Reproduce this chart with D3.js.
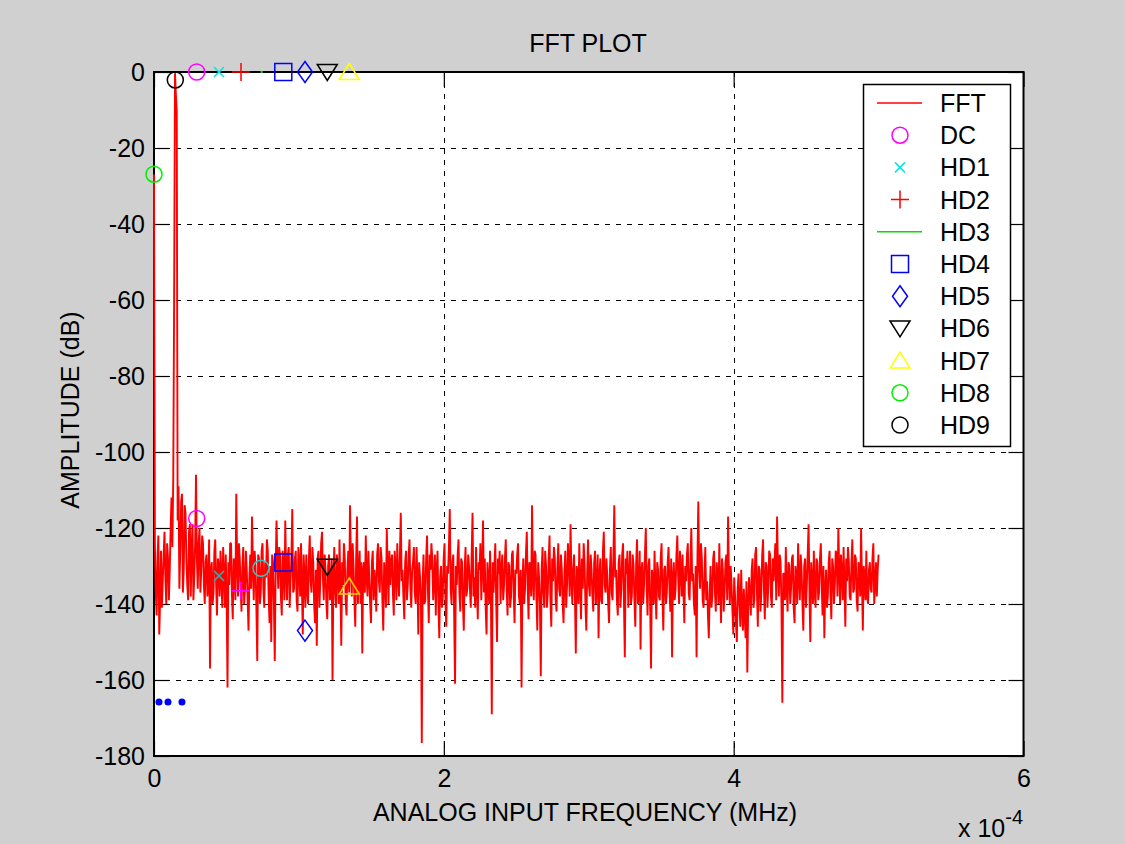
<!DOCTYPE html>
<html><head><meta charset="utf-8">
<script src="https://cdn.jsdelivr.net/npm/d3@7"></script>
<style>
body{margin:0;background:#d0d0d0;}
svg{display:block;}
text{font-family:"Liberation Sans",Arial,Helvetica,sans-serif;fill:#000;}
</style>
</head><body>
<svg id="chart" width="1125" height="844"></svg>
<script>
// ---------------- DATA ----------------
// FFT magnitude (dB) on the whole bins 0..414 (0 .. 5e-4 MHz)
const fftAmpWhole = [
-27,-137,-128,-148,-126,-134,-121,-140,-128,-131,-112,-107,-0.3,-10.5,-109,-126,-111,-131,-116,-135,
-121,-138,-119,-133,-106,-136,-120,-131,-124,-140,-127,-134,-157,-129,-137,-123,-143,-130,-126,-141,
-132,-127,-162,-135,-124,-144,-130,-111,-138,-128,-142,-125,-136,-131,-147,-127,-117,-139,-130,-155,
-128,-137,-124,-141,-133,-126,-145,-150,-129,-155,-118,-136,-127,-143,-131,-118,-139,-125,-134,-115,
-136,-126,-142,-130,-124,-148,-133,-127,-140,-122,-137,-129,-145,-151,-126,-134,-121,-139,-131,-144,
-127,-136,-160,-125,-141,-131,-123,-151,-135,-128,-143,-126,-114,-138,-130,-146,-117,-133,-140,-153,
-129,-122,-138,-133,-145,-126,-131,-142,-124,-137,-128,-147,-132,-120,-140,-135,-127,-143,-130,-124,
-138,-116,-131,-144,-126,-135,-123,-141,-129,-137,-125,-148,-133,-176.6,-127,-139,-122,-145,-131,-128,
-134,-143,-126,-149,-130,-138,-124,-146,-132,-115,-140,-127,-161,-135,-123,-142,-129,-147,-125,-136,
-130,-141,-116,-133,-125,-144,-131,-139,-118,-128,-148,-134,-126,-169,-137,-124,-150,-132,-140,-127,
-135,-123,-143,-130,-138,-126,-145,-132,-124,-140,-162,-128,-136,-121,-144,-131,-114,-139,-127,-147,
-133,-159,-125,-141,-130,-137,-122,-146,-134,-128,-142,-124,-138,-131,-145,-126,-135,-129,-119,-140,
-127,-153,-132,-124,-144,-136,-129,-147,-123,-138,-131,-142,-126,-135,-149,-128,-140,-121,-137,-133,
-145,-125,-139,-114,-131,-143,-127,-136,-124,-154,-132,-141,-126,-138,-130,-146,-123,-137,-152,-129,
-135,-120,-143,-128,-157,-133,-126,-144,-131,-139,-124,-147,-130,-137,-125,-142,-154,-129,-136,-122,
-140,-131,-127,-145,-134,-124,-139,-120,-132,-143,-154,-113,-136,-128,-141,-125,-134,-149,-130,-138,
-126,-142,-133,-124,-145,-131,-137,-127,-117,-140,-135,-148,-138,-150,-132,-146,-141,-136,-149,-158,
-133,-143,-128,-139,-125,-146,-131,-137,-123,-144,-130,-135,-127,-141,-134,-124,-117,-138,-129,-166,
-132,-125,-142,-130,-136,-127,-145,-133,-124,-139,-131,-147,-128,-135,-119,-150,-134,-126,-141,-129,
-137,-124,-143,-149,-131,-138,-126,-144,-130,-135,-127,-120,-140,-132,-125,-146,-134,-129,-139,-123,
-136,-128,-142,-131,-120,-147,-133,-126,-140,-129,-137,-124,-135,-138,-127
];
// FFT magnitude (dB) on the half bins between them (0.5 .. 413.5)
const fftAmpHalf = [
-124,-143,-122,-139,-141,-127,-133,-124,-139,-120,-125,-60,-6,-118,-136,-113,-137,-114,-128,-139,
-119,-125,-139,-124,-128,-124,-137,-122,-135,-129,-138,-123,-131,-140,-126,-135,-128,-138,-133,-125,
-141,-138,-129,-124,-137,-128,-139,-129,-124,-136,-130,-140,-126,-139,-133,-136,-130,-126,-141,-127,
-140,-126,-136,-129,-123,-138,-130,-127,-140,-131,-129,-125,-138,-126,-139,-132,-127,-141,-128,-137,
-128,-139,-125,-138,-135,-127,-141,-136,-128,-134,-125,-140,-131,-128,-141,-124,-133,-127,-140,-130,
-139,-128,-133,-137,-127,-140,-135,-129,-124,-139,-131,-137,-129,-124,-139,-128,-140,-126,-129,-131,
-137,-133,-126,-140,-129,-139,-135,-127,-134,-125,-139,-129,-141,-131,-126,-129,-137,-126,-139,-133,
-127,-134,-138,-129,-139,-127,-136,-131,-125,-140,-133,-129,-138,-134,-140,-128,-136,-127,-124,-139,
-127,-131,-140,-133,-141,-128,-139,-130,-125,-136,-129,-143,-130,-127,-137,-128,-140,-131,-138,-127,
-136,-127,-138,-141,-136,-129,-124,-130,-137,-141,-129,-140,-138,-129,-130,-139,-128,-126,-131,-139,
-128,-136,-129,-141,-127,-137,-131,-127,-138,-131,-135,-140,-127,-135,-129,-138,-134,-126,-138,-129,
-140,-131,-137,-126,-141,-128,-139,-128,-125,-139,-130,-136,-127,-140,-132,-141,-124,-138,-133,-131,
-138,-130,-140,-135,-128,-124,-140,-132,-135,-127,-138,-129,-140,-127,-133,-139,-126,-135,-128,-140,
-131,-137,-127,-133,-139,-129,-141,-127,-139,-128,-126,-133,-140,-127,-139,-129,-140,-126,-131,-140,
-127,-136,-130,-141,-131,-140,-136,-129,-138,-128,-138,-131,-140,-129,-136,-128,-133,-139,-127,-133,
-126,-138,-136,-130,-127,-137,-129,-134,-140,-130,-128,-131,-124,-139,-132,-139,-143,-137,-141,-128,
-137,-129,-140,-136,-128,-142,-129,-139,-133,-130,-142,-133,-145,-136,-140,-131,-147,-143,-134,-140,
-138,-131,-141,-127,-137,-130,-142,-127,-136,-129,-141,-126,-138,-128,-129,-139,-131,-127,-140,-132,
-139,-136,-129,-140,-128,-141,-130,-140,-133,-127,-140,-130,-141,-127,-137,-129,-140,-137,-128,-139,
-128,-135,-130,-136,-141,-129,-137,-128,-140,-126,-138,-131,-127,-139,-135,-128,-125,-138,-129,-137,
-127,-139,-129,-138,-134,-130,-139,-138,-131,-136,-128,-140,-129,-131
];
const fftBinWidth = 5e-4 / 414;   // MHz between whole bins

// Legend series (markers shown along the top / on the fundamental)
const seriesNames  = ["DC","HD1","HD2","HD3","HD4","HD5","HD6","HD7","HD8","HD9"];
const seriesFreq   = [0.2947e-4,0.4485e-4,0.6004e-4,0.7430e-4,0.8922e-4,1.0419e-4,1.1958e-4,1.3476e-4,0,0.147e-4];
const seriesAmp    = [0,0,0,0,0,0,0,0,-26.9,-2.1];
const seriesSymbol = ["circle","x","plus","line","square","diamond","tridown","triup","circle","circle"];
const seriesColor  = ["#ff00ff","#00e6e6","#ff0000","#00dd00","#0000ff","#0000ff","#000000","#ffff00","#00ee00","#000000"];

// Harmonic markers on the noise floor
const harmFreq   = [0.2947e-4,0.4485e-4,0.5983e-4,0.7383e-4,0.8922e-4,1.0419e-4,1.1958e-4,1.3476e-4];
const harmAmp    = [-117.5,-132.6,-136.5,-130.6,-129.1,-147.0,-130.2,-135.4];
const harmSymbol = ["circle","x","plus","circle","square","diamond","tridown","triup"];
const harmColor  = ["#ff00ff","#3aa6a6","#ff00ff","#30c4c4","#0000ff","#0000ff","#000000","#ffcc00"];

// Blue dot markers
const dotFreq = [0.0345e-4,0.0966e-4,0.193e-4];
const dotAmp  = [-165.8,-165.8,-165.8];

const xTicks = [0,2e-4,4e-4,6e-4];
const yTicks = [0,-20,-40,-60,-80,-100,-120,-140,-160,-180];

// merged FFT table (whole and half bins in frequency order)
const fftTable = [];
fftAmpWhole.forEach((a,i)=>{
  fftTable.push({f:i*fftBinWidth, a});
  if(i < fftAmpHalf.length) fftTable.push({f:(i+0.5)*fftBinWidth, a:fftAmpHalf[i]});
});

// ---------------- LAYOUT ----------------
const L = 154, R = 1023.5, T = 72, B = 756;
const svg = d3.select("#chart");
const x = d3.scaleLinear().domain([0,6e-4]).range([L,R]);
const y = d3.scaleLinear().domain([-180,0]).range([B,T]);

svg.append("rect").attr("width",1125).attr("height",844).attr("fill","#d0d0d0");
svg.append("rect").attr("x",L).attr("y",T).attr("width",R-L).attr("height",B-T).attr("fill","#fff");

// grid
const grid = svg.append("g").attr("stroke","#000").attr("stroke-width",1).attr("stroke-dasharray","5,6");
grid.selectAll("line.gy").data(yTicks.filter(d=>d>-180 && d<0)).join("line")
  .attr("x1",L).attr("x2",R).attr("y1",d=>Math.round(y(d))+0.5).attr("y2",d=>Math.round(y(d))+0.5);
grid.selectAll("line.gx").data(xTicks.filter(d=>d>0 && d<6e-4)).join("line")
  .attr("y1",T).attr("y2",B).attr("x1",d=>Math.round(x(d))+0.5).attr("x2",d=>Math.round(x(d))+0.5);

// axes
const fontPx = 25;
const ax = svg.append("g").attr("transform",`translate(0,${B})`)
  .call(d3.axisBottom(x).tickValues(xTicks).tickSize(-15).tickPadding(13).tickFormat(d=>String(Math.round(d*1e4))));
const ay = svg.append("g").attr("transform",`translate(${L},0)`)
  .call(d3.axisLeft(y).tickValues(yTicks).tickSize(-15).tickPadding(9).tickFormat(d=>String(d)));
const at = svg.append("g").attr("transform",`translate(0,${T})`)
  .call(d3.axisTop(x).tickValues(xTicks).tickSize(-15).tickFormat(""));
const ar = svg.append("g").attr("transform",`translate(${R},0)`)
  .call(d3.axisRight(y).tickValues(yTicks).tickSize(-15).tickFormat(""));
[ax,ay,at,ar].forEach(g=>{
  g.select(".domain").remove();
  g.selectAll("line").attr("stroke","#000").attr("stroke-width",1.2);
  g.selectAll("text").attr("font-size",fontPx).attr("font-family","Liberation Sans, Arial, sans-serif").attr("fill","#000");
});
// box
svg.append("rect").attr("x",L).attr("y",T).attr("width",R-L).attr("height",B-T)
  .attr("fill","none").attr("stroke","#000").attr("stroke-width",2);

// FFT line
const line = d3.line().x(d=>x(d.f)).y(d=>y(d.a));
svg.append("path").datum(fftTable).attr("d",line).attr("fill","none")
  .attr("stroke","#ff0000").attr("stroke-width",1.9).attr("stroke-linejoin","bevel");

// symbol paths
function symPath(s){
  switch(s){
    case "circle": return d3.arc()({innerRadius:0,outerRadius:8,startAngle:0,endAngle:2*Math.PI});
    case "x": return "M-5,-5L5,5M-5,5L5,-5";
    case "plus": return "M-9,0L9,0M0,-9L0,9";
    case "square": return "M-8.5,-8.5H8.5V8.5H-8.5Z";
    case "diamond": return "M0,-10.5L7.5,0L0,10.5L-7.5,0Z";
    case "tridown": return "M-10,-7.5H10L0,8.5Z";
    case "triup": return "M0,-8.5L10,7.5H-10Z";
    case "line": return "M-1,0L1,0";
    default: return "";
  }
}
function drawMarkers(g, fr, am, sy, co){
  g.selectAll("path").data(fr.map((f,i)=>({f,a:am[i],s:sy[i],c:co[i]}))).join("path")
    .attr("transform",d=>`translate(${x(d.f)},${y(d.a)})`)
    .attr("d",d=>symPath(d.s)).attr("fill","none")
    .attr("stroke",d=>d.c).attr("stroke-width",d=>d.s==="line"?2:1.5);
}
drawMarkers(svg.append("g"), harmFreq, harmAmp, harmSymbol, harmColor);
drawMarkers(svg.append("g"), seriesFreq, seriesAmp, seriesSymbol, seriesColor);
svg.append("g").selectAll("circle").data(dotFreq).join("circle")
  .attr("cx",d=>x(d)).attr("cy",(d,i)=>y(dotAmp[i])).attr("r",3.5).attr("fill","#0000ff");

// legend
const lg = svg.append("g");
lg.append("rect").attr("x",863.5).attr("y",84.5).attr("width",147).attr("height",362)
  .attr("fill","#fff").attr("stroke","#000").attr("stroke-width",1.5);
const legNames = ["FFT"].concat(seriesNames);
const legSym = ["line"].concat(seriesSymbol);
const legCol = ["#ff0000"].concat(seriesColor);
legNames.forEach((n,i)=>{
  const cy = 103 + i*32.2;
  if(legSym[i]==="line"){
    lg.append("line").attr("x1",877).attr("x2",922).attr("y1",cy).attr("y2",cy)
      .attr("stroke",legCol[i]).attr("stroke-width",1.5);
  } else {
    lg.append("path").attr("transform",`translate(900,${cy})`).attr("d",symPath(legSym[i]))
      .attr("fill","none").attr("stroke",legCol[i]).attr("stroke-width",1.5);
  }
  lg.append("text").attr("x",940).attr("y",cy+9).attr("font-size",fontPx).text(n);
});

// titles
svg.append("text").attr("x",588).attr("y",52).attr("text-anchor","middle").attr("font-size",fontPx).text("FFT PLOT");
svg.append("text").attr("x",585).attr("y",821).attr("text-anchor","middle").attr("font-size",fontPx).text("ANALOG INPUT FREQUENCY (MHz)");
svg.append("text").attr("transform","translate(79,410) rotate(-90)").attr("text-anchor","middle").attr("font-size",fontPx).text("AMPLITUDE (dB)");
const ex = svg.append("text").attr("x",958).attr("y",837).attr("font-size",fontPx);
ex.append("tspan").text("x 10");
ex.append("tspan").attr("font-size",20).attr("dy",-13).text("-4");
</script>
</body></html>
